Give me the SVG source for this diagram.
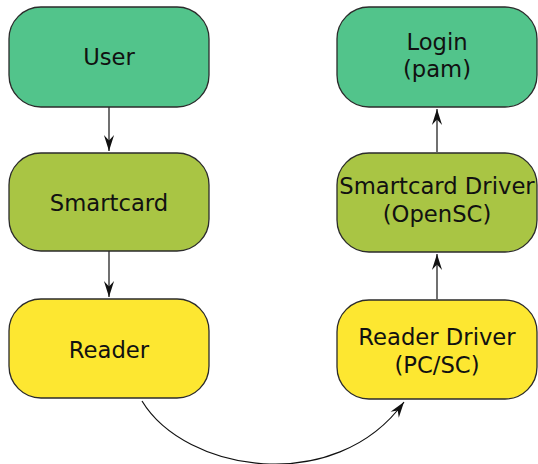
<svg xmlns="http://www.w3.org/2000/svg" width="538" height="464" viewBox="0 0 538 464">
<defs>
<style>
.box{stroke:#2b2b2b;stroke-width:1.3}
.g{fill:#52c48b}
.l{fill:#a9c544}
.y{fill:#fde731}
text{font-family:"DejaVu Sans",sans-serif;font-size:22.7px;fill:#111;text-anchor:middle}
.c{fill:none;stroke:#111;stroke-width:1.2}
</style>
<marker id="ah" markerUnits="userSpaceOnUse" markerWidth="18" markerHeight="14" viewBox="-16 -6 17 12" refX="0" refY="0" orient="auto">
<path d="M0,0 L-15,-4.8 L-10,0 L-15,4.8 Z" fill="#111"/>
</marker>
</defs>
<g id="connectors">
<path class="c" d="M109,107 L109,151" marker-end="url(#ah)"/>
<path class="c" d="M109,251 L109,297" marker-end="url(#ah)"/>
<path class="c" d="M437,152 L437,109" marker-end="url(#ah)"/>
<path class="c" d="M437,299 L437,254" marker-end="url(#ah)"/>
<path class="c" d="M142,401 C185,472 335,497 404,402" marker-end="url(#ah)"/>
</g>
<g id="user"><rect class="box g" x="9" y="7" width="200" height="100" rx="32"/><text x="109" y="65">User</text></g>
<g id="smartcard"><rect class="box l" x="9" y="153" width="200" height="98" rx="32"/><text x="109" y="211">Smartcard</text></g>
<g id="reader"><rect class="box y" x="9" y="299" width="200" height="99" rx="32"/><text x="109" y="358">Reader</text></g>
<g id="login"><rect class="box g" x="337" y="7" width="200" height="100" rx="32"/><text x="437" y="50">Login</text><text x="437" y="77">(pam)</text></g>
<g id="smartcard-driver"><rect class="box l" x="337" y="153" width="200" height="99" rx="32"/><text x="437" y="194">Smartcard Driver</text><text x="437" y="222">(OpenSC)</text></g>
<g id="reader-driver"><rect class="box y" x="337" y="300" width="200" height="99" rx="32"/><text x="437" y="345">Reader Driver</text><text x="437" y="373">(PC/SC)</text></g>
</svg>
